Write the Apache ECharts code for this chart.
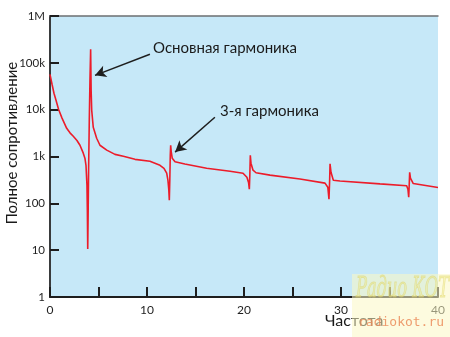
<!DOCTYPE html>
<html>
<head>
<meta charset="utf-8">
<script src="https://cdn.jsdelivr.net/npm/echarts@6/dist/echarts.min.js"></script>
<style>
  html, body { margin: 0; padding: 0; background: #ffffff; }
  #chart { width: 450px; height: 337px; }
</style>
</head>
<body>
<div id="chart"></div>
<script>
// Impedance of a resonator vs. frequency: fundamental near 4.1, odd harmonics at 3x, 5x, 7x, 9x
const frequency = [
  0, 0.21, 0.41, 0.62, 0.88, 1.24, 1.72, 2.06, 2.4, 2.78, 3.09, 3.43, 3.6, 3.71, 3.81, 3.85, 3.89,
  3.93, 3.98, 4.05, 4.12, 4.19, 4.24, 4.3, 4.46, 4.81, 5.15, 5.85, 6.7, 7.56, 8.76, 10.3,
  11.34, 11.75, 12.03, 12.16, 12.25, 12.3, 12.35, 12.4, 12.44, 12.5, 12.6, 12.89, 13.9, 16.15,
  18.56, 19.9, 20.3, 20.47, 20.55, 20.6, 20.65, 20.72, 20.93, 21.24, 22.68, 25.77,
  28.35, 28.64, 28.76, 28.83, 28.87, 28.97, 29.21, 29.9, 34.02,
  36.77, 36.9, 36.98, 37.03, 37.08, 37.16, 37.45, 40
];
const impedance = [
  56900, 34900, 22400, 15900, 10200, 6600, 4000, 3200, 2700, 2200, 1740, 1180, 920, 650, 245, 72, 10.6,
  56, 510, 5900, 42000, 195000, 26000, 9700, 4200, 2450, 1740, 1370, 1110, 1010, 870, 790,
  650, 560, 440, 310, 190, 117, 310, 1060, 1740, 1250, 920, 770, 690, 560,
  485, 440, 360, 280, 200, 400, 1060, 720, 510, 450, 400, 330,
  270, 220, 123, 310, 700, 460, 310, 300, 260,
  237, 200, 135, 240, 460, 345, 265, 218
];

// Tick labels
const xTickLabels = ['0', '10', '20', '30', '40'];
const yTickLabels = ['1', '10', '100', '1k', '10k', '100k', '1M'];

// Annotation arrows: [from, to] in data coordinates
const fundamentalArrow = [[10.3, 152000], [4.64, 54000]];
const thirdArrow = [[17.0, 6900], [12.9, 1240]];

const texts = {
  yTitle: 'Полное сопротивление',
  xTitle: 'Частота',
  fundamental: 'Основная гармоника',
  third: '3-я гармоника'
};

const font = 'Lato, "DejaVu Sans", sans-serif';
const chart = echarts.init(document.getElementById('chart'), null, { renderer: 'canvas' });

const points = frequency.map((f, i) => [f, impedance[i]]);

chart.setOption({
  animation: false,
  grid: {
    left: 50, right: 12, top: 16, bottom: 40,
    show: true, backgroundColor: '#c6e8f8', borderWidth: 0
  },
  xAxis: [{
    type: 'value', min: 0, max: 40, interval: 5,
    axisLine: { show: true, lineStyle: { color: '#1e1e1e', width: 2 } },
    axisTick: { show: true, inside: true, length: 10, lineStyle: { color: '#1e1e1e', width: 2 } },
    axisLabel: {
      color: '#1e1e1e', fontSize: 12, fontFamily: font, margin: 7,
      formatter: v => (v % 10 === 0 ? xTickLabels[v / 10] : '')
    },
    splitLine: { show: false }
  }, {
    type: 'value', min: 0, max: 40, position: 'top',
    axisLine: { show: true, lineStyle: { color: '#6c6f72', width: 1.5 } },
    axisTick: { show: false }, axisLabel: { show: false }, splitLine: { show: false }
  }],
  yAxis: [{
    type: 'log', logBase: 10, min: 1, max: 1000000, splitNumber: 6,
    axisLine: { show: true, lineStyle: { color: '#6a7177', width: 2 } },
    axisTick: { show: true, inside: true, length: 9, lineStyle: { color: '#1e1e1e', width: 2 } },
    axisLabel: {
      color: '#1e1e1e', fontSize: 11.5, fontFamily: font, margin: 5,
      formatter: v => yTickLabels[Math.round(Math.log10(v))]
    },
    splitLine: { show: false }
  }, {
    type: 'log', logBase: 10, min: 1, max: 1000000, position: 'right',
    axisLine: { show: true, lineStyle: { color: '#2a2a2a', width: 1.5 } },
    axisTick: { show: false }, axisLabel: { show: false }, splitLine: { show: false }
  }],
  series: [{
    type: 'line',
    data: points,
    showSymbol: false,
    smooth: false,
    lineStyle: { color: '#ec1c2a', width: 1.6 },
    z: 3,
    markLine: {
      silent: true,
      symbol: ['none', 'arrow'],
      symbolSize: [9, 11],
      label: { show: false },
      lineStyle: { color: '#1e1e1e', width: 1.5, type: 'solid' },
      data: [
        [{ coord: fundamentalArrow[0] }, { coord: fundamentalArrow[1] }],
        [{ coord: thirdArrow[0] }, { coord: thirdArrow[1] }]
      ]
    }
  }],
  graphic: [
    {
      type: 'text', left: 153, top: 41, z: 10,
      style: { text: texts.fundamental, font: '15px ' + font, fill: '#1a1a1a' }
    },
    {
      type: 'text', left: 220, top: 104, z: 10,
      style: { text: texts.third, font: '15px ' + font, fill: '#1a1a1a' }
    },
    {
      type: 'text', x: 12, y: 143, rotation: Math.PI / 2, z: 10,
      style: { text: texts.yTitle, font: '15px ' + font, fill: '#1a1a1a', align: 'center', verticalAlign: 'middle' }
    },
    {
      type: 'text', left: 325, top: 313, z: 10,
      style: { text: texts.xTitle, font: '16px ' + font, fill: '#1a1a1a' }
    },
    // site badge in the lower right corner
    {
      type: 'rect', z: 20, silent: true,
      shape: { x: 352, y: 274, width: 98, height: 63 },
      style: { fill: 'rgba(252,248,196,0.55)' }
    },
    {
      type: 'text', x: 356, y: 276, scaleX: 0.58, scaleY: 1, z: 21, silent: true,
      style: {
        text: 'Радио КОТ', font: 'italic 28px "DejaVu Serif", serif',
        fill: 'rgba(238,230,120,0.35)', stroke: 'rgba(220,210,100,0.5)', lineWidth: 1
      }
    },
    {
      type: 'text', left: 358, top: 316, z: 21, silent: true,
      style: { text: 'radiokot.ru', font: '13px "DejaVu Sans Mono", monospace', fill: 'rgba(235,140,90,0.85)' }
    }
  ]
});
</script>
</body>
</html>
